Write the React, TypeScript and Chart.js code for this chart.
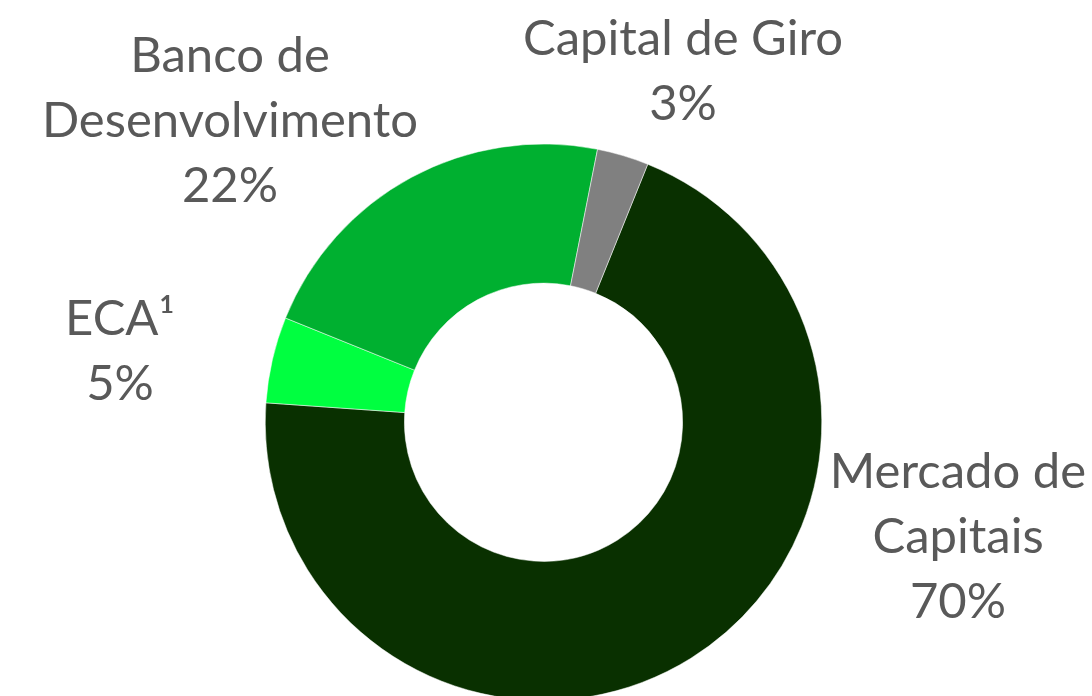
import React, { useEffect, useRef } from "react";
import { Chart, registerables } from "chart.js";

Chart.register(...registerables);

const categories = ["Mercado de Capitais", "ECA¹", "Banco de Desenvolvimento", "Capital de Giro"];
const labelLines = [["Mercado de", "Capitais"], ["ECA¹"], ["Banco de", "Desenvolvimento"], ["Capital de Giro"]];
const values = [70, 5, 22, 3];
const colors = ["#093000", "#00FF40", "#00B030", "#808080"];
// label anchor: center x and first baseline (text placement only)
const labelX = [958, 120, 230, 683];
const labelY = [488, 335, 72, 55];

const FONT = "49px Lato";
const LINE_H = 65;

const labelPlugin = {
  id: "outsideLabels",
  afterDraw(chart: any) {
    const ctx = chart.ctx;
    const total = values.reduce((a, b) => a + b, 0);
    ctx.save();
    ctx.font = FONT;
    ctx.fillStyle = "#595959";
    ctx.textAlign = "center";
    ctx.textBaseline = "alphabetic";
    categories.forEach((_, i) => {
      const lines = [...labelLines[i], Math.round((values[i] / total) * 100) + "%"];
      lines.forEach((t, j) => ctx.fillText(t, labelX[i], labelY[i] + j * LINE_H));
    });
    ctx.restore();
  },
};

export default function App() {
  const ref = useRef<HTMLCanvasElement>(null);
  useEffect(() => {
    const chart = new Chart(ref.current!, {
      type: "doughnut",
      data: {
        labels: categories,
        datasets: [
          {
            data: values,
            backgroundColor: colors,
            borderColor: "#ffffff",
            borderWidth: 0.5,
          },
        ],
      },
      options: {
        animation: false,
        responsive: false,
        maintainAspectRatio: false,
        rotation: 22,
        cutout: "50%",
        layout: { padding: { left: 265, right: 270, top: 143.5, bottom: 59 } },
        plugins: { legend: { display: false }, tooltip: { enabled: false } },
      },
      plugins: [labelPlugin],
    });
    return () => chart.destroy();
  }, []);
  return (
    <div style={{ position: "fixed", left: 0, top: 0, width: 1092, height: 696, overflow: "hidden", background: "#fff" }}>
      <canvas ref={ref} width={1092} height={760} style={{ display: "block" }} />
    </div>
  );
}
